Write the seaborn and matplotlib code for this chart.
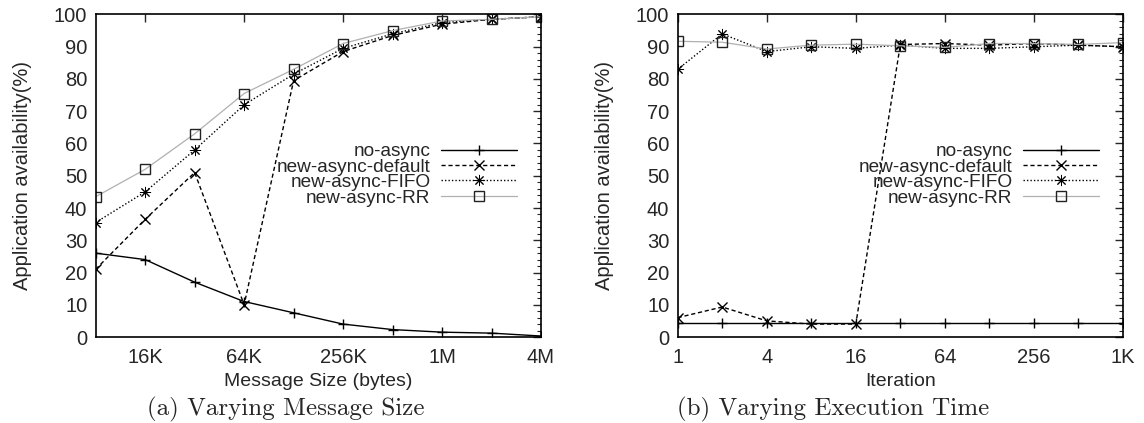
import pandas as pd
import seaborn as sns
import matplotlib.pyplot as plt
from matplotlib.ticker import FixedLocator, FixedFormatter, MultipleLocator

# Data
size_x = [8192, 16384, 32768, 65536, 131072, 262144, 524288, 1048576, 2097152, 4194304]
size_ticks = [16384, 65536, 262144, 1048576, 4194304]
size_tick_labels = ["16K", "64K", "256K", "1M", "4M"]
size_no_async = [26, 24, 17, 11, 7.5, 4, 2.3, 1.5, 1.2, 0.3]
size_default = [21, 36.5, 51, 10, 79.5, 88.5, 93.5, 97, 98.5, 99.3]
size_fifo = [35.5, 45, 58, 72, 81.5, 89.5, 94, 97.5, 98.5, 99.3]
size_rr = [43.5, 52, 63, 75.5, 83, 91, 95, 98, 98.5, 99.3]

iter_x = [1, 2, 4, 8, 16, 32, 64, 128, 256, 512, 1024]
iter_ticks = [1, 4, 16, 64, 256, 1024]
iter_tick_labels = ["1", "4", "16", "64", "256", "1K"]
iter_no_async = [4.2] * 11
iter_default = [6, 9.3, 5, 4, 4, 90.7, 91, 90.5, 91, 90.5, 90]
iter_fifo = [83, 94, 88.5, 90, 89.5, 90.5, 89.5, 89.5, 90, 90.5, 90]
iter_rr = [91.7, 91.4, 89.3, 90.5, 90.8, 90.3, 89.8, 91, 91, 90.7, 91.3]

labels = ["no-async", "new-async-default", "new-async-FIFO", "new-async-RR"]
styles = [
    dict(color="black", linestyle="-", marker="+", markersize=7, lw=1.0,
         markeredgecolor="black", markeredgewidth=1.0),
    dict(color="black", linestyle=(0, (3, 2)), marker="x", markersize=7.5, lw=1.0,
         markeredgecolor="black", markeredgewidth=1.0),
    dict(color="black", linestyle=(0, (1, 1.5)), marker=(8, 2, 0), markersize=8, lw=1.0,
         markeredgecolor="black", markeredgewidth=0.7),
    dict(color="#b0b0b0", linestyle="-", marker="s", markersize=6.5, lw=0.9,
         markerfacecolor="none", markeredgecolor="#222222", markeredgewidth=1.0),
]


def draw_panel(ax, x, series, ticks, tick_labels, xlabel, caption, cap_x):
    for lab, ys, st in zip(labels, series, styles):
        df = pd.DataFrame({"x": x, "y": ys})
        sns.lineplot(data=df, x="x", y="y", ax=ax, label=lab, **st)
    ax.set_xscale("log", base=2)
    ax.set_xlim(x[0], x[-1])
    ax.set_ylim(0, 100)
    ax.xaxis.set_major_locator(FixedLocator(ticks))
    ax.xaxis.set_major_formatter(FixedFormatter(tick_labels))
    ax.xaxis.set_minor_locator(FixedLocator([]))
    ax.yaxis.set_major_locator(MultipleLocator(10))
    ax.yaxis.set_minor_locator(MultipleLocator(2))
    ax.tick_params(which="both", direction="in", top=True, right=True, labelsize=14.5)
    ax.tick_params(which="major", length=6, width=1.0)
    ax.tick_params(which="minor", length=3, width=0.8)
    ax.tick_params(axis="x", pad=8)
    ax.tick_params(axis="y", pad=6)
    ax.set_xlabel(xlabel, fontsize=14, labelpad=4)
    ax.set_ylabel("Application availability(%)", fontsize=14.5, labelpad=16)
    for sp in ax.spines.values():
        sp.set_linewidth(1.2)
        sp.set_color("black")
    ax.legend(loc="center right", bbox_to_anchor=(0.946, 0.503), frameon=False,
              markerfirst=False, fontsize=13.7, handlelength=4.0, handletextpad=0.55,
              labelspacing=-0.1, borderpad=0, borderaxespad=0)
    ax.figure.text(cap_x, 8 / 423, caption, ha="center", va="baseline",
                   fontsize=18, family="cmr10")


sns.set_style("white")
plt.rcParams["font.family"] = ["Liberation Sans", "DejaVu Sans"]
plt.rcParams["axes.unicode_minus"] = False

fig = plt.figure(figsize=(11.44, 4.23), dpi=100)
ax1 = fig.add_axes([95.7 / 1144, 1 - 337 / 423, 445.3 / 1144, 322.5 / 423])
ax2 = fig.add_axes([677.7 / 1144, 1 - 337 / 423, 445.3 / 1144, 322.5 / 423])

draw_panel(ax1, size_x, [size_no_async, size_default, size_fifo, size_rr],
           size_ticks, size_tick_labels, "Message Size (bytes)",
           "(a) Varying Message Size", 286 / 1144)
draw_panel(ax2, iter_x, [iter_no_async, iter_default, iter_fifo, iter_rr],
           iter_ticks, iter_tick_labels, "Iteration",
           "(b) Varying Execution Time", 833 / 1144)

fig.savefig("out.png", dpi=100)
